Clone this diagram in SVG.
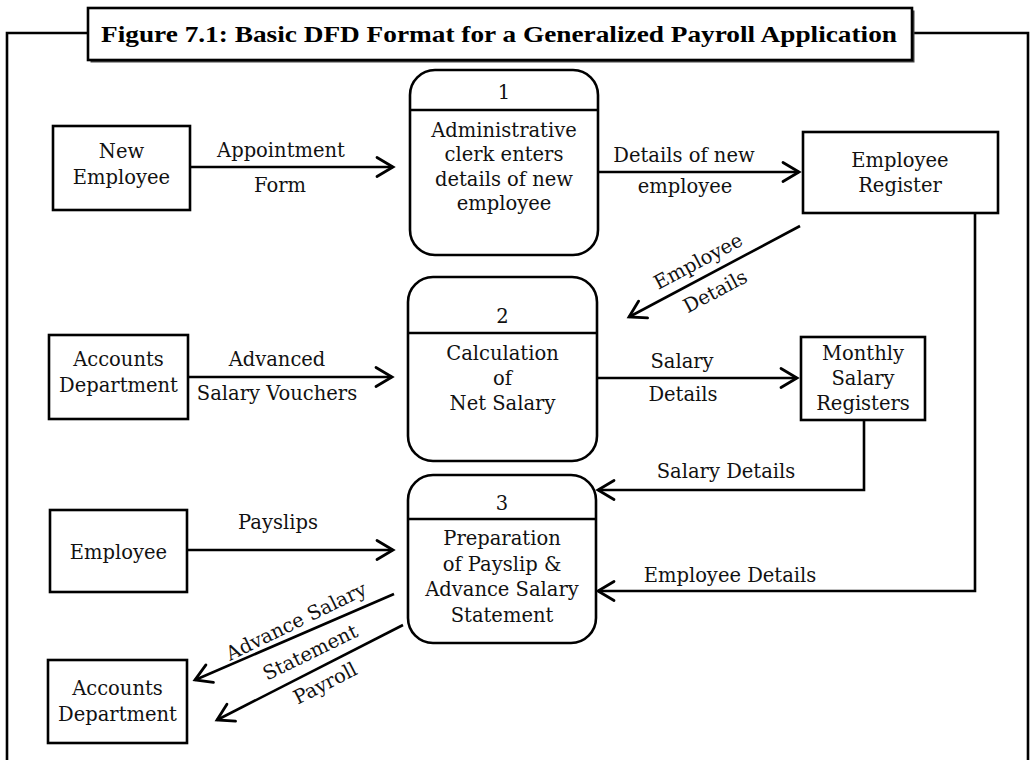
<svg xmlns="http://www.w3.org/2000/svg" width="1031" height="760" viewBox="0 0 1031 760">
<defs>
<marker id="arr" markerUnits="userSpaceOnUse" markerWidth="30" markerHeight="30" viewBox="-20 -15 25 30" refX="0" refY="0" orient="auto">
<path d="M-16,-9.5 L0,0 L-16,9.5" fill="none" stroke="#000" stroke-width="2.8" stroke-linecap="round" stroke-linejoin="miter"/>
</marker>
</defs>
<style>
.t{font-family:"DejaVu Serif","Liberation Serif",serif;font-size:19.5px;fill:#111;text-anchor:middle}
.title{font-family:"Liberation Serif","DejaVu Serif",serif;font-size:23px;font-weight:bold;fill:#000}
.box{fill:#fff;stroke:#000;stroke-width:2.6}
.proc{fill:#fff;stroke:#000;stroke-width:2.6}
.line{fill:none;stroke:#000;stroke-width:2.6}
.conn{fill:none;stroke:#000;stroke-width:2.6;marker-end:url(#arr)}
</style>
<rect width="1031" height="760" fill="#fff"/>
<g id="frame">
<path class="line" d="M7,760 L7,33 L88,33 M912,33 L1028,33 L1028,760"/>
<rect x="90.5" y="10.5" width="824" height="52" fill="#444"/>
<rect class="box" x="88" y="8" width="824" height="52"/>
<text class="title" x="101" y="42" textLength="796" lengthAdjust="spacingAndGlyphs">Figure 7.1: Basic DFD Format for a Generalized Payroll Application</text>
</g>
<g id="connectors">
<path class="conn" d="M190,167 L393,167"/>
<path class="conn" d="M598,172 L799,172"/>
<path class="conn" d="M800,226 L629,317"/>
<path class="conn" d="M188,377 L392,377"/>
<path class="conn" d="M597,378 L797,378"/>
<path class="conn" d="M864,420 L864,490 L598,490"/>
<path class="conn" d="M975,213 L975,591 L598,591"/>
<path class="conn" d="M187,550 L393,550"/>
<path class="conn" d="M394,594 L195,680"/>
<path class="conn" d="M403,625 L217,720"/>
<text class="t" x="281" y="157">Appointment</text>
<text class="t" x="280" y="192">Form</text>
<text class="t" x="684" y="162">Details of new</text>
<text class="t" x="685" y="193">employee</text>
<text class="t" x="698" y="268" transform="rotate(-28 698 261)">Employee</text>
<text class="t" x="715" y="298" transform="rotate(-28 715 291)">Details</text>
<text class="t" x="277" y="366">Advanced</text>
<text class="t" x="277" y="400">Salary Vouchers</text>
<text class="t" x="682" y="368">Salary</text>
<text class="t" x="683" y="401">Details</text>
<text class="t" x="726" y="478">Salary Details</text>
<text class="t" x="730" y="582">Employee Details</text>
<text class="t" x="278" y="529">Payslips</text>
<text class="t" x="296" y="628" transform="rotate(-26 296 621)">Advance Salary</text>
<text class="t" x="310" y="659" transform="rotate(-26 310 652)">Statement</text>
<text class="t" x="325" y="690" transform="rotate(-27 325 683)">Payroll</text>
</g>
<g id="new-employee">
<rect class="box" x="53" y="126" width="137" height="84"/>
<text class="t" x="121.5" y="158">New</text>
<text class="t" x="121.5" y="184">Employee</text>
</g>
<g id="accounts-top">
<rect class="box" x="49" y="335" width="139" height="84"/>
<text class="t" x="118.5" y="366">Accounts</text>
<text class="t" x="118.5" y="392">Department</text>
</g>
<g id="employee">
<rect class="box" x="50" y="510" width="137" height="82"/>
<text class="t" x="118.5" y="559">Employee</text>
</g>
<g id="accounts-bottom">
<rect class="box" x="48" y="660" width="139" height="83"/>
<text class="t" x="117.5" y="695">Accounts</text>
<text class="t" x="117.5" y="721">Department</text>
</g>
<g id="employee-register">
<rect class="box" x="803" y="132" width="195" height="81"/>
<text class="t" x="900" y="167">Employee</text>
<text class="t" x="900" y="192">Register</text>
</g>
<g id="monthly-salary-registers">
<rect class="box" x="801" y="337" width="124" height="83"/>
<text class="t" x="863" y="360">Monthly</text>
<text class="t" x="863" y="385">Salary</text>
<text class="t" x="863" y="410">Registers</text>
</g>
<g id="process-1">
<rect class="proc" x="410" y="70" width="188" height="185" rx="25" ry="25"/>
<line class="line" x1="410" y1="110" x2="598" y2="110"/>
<text class="t" x="504" y="99">1</text>
<text class="t" x="504" y="137">Administrative</text>
<text class="t" x="504" y="161">clerk enters</text>
<text class="t" x="504" y="186">details of new</text>
<text class="t" x="504" y="210">employee</text>
</g>
<g id="process-2">
<rect class="proc" x="408" y="277" width="189" height="184" rx="25" ry="25"/>
<line class="line" x1="408" y1="333" x2="597" y2="333"/>
<text class="t" x="502.5" y="323">2</text>
<text class="t" x="502.5" y="360">Calculation</text>
<text class="t" x="502.5" y="385">of</text>
<text class="t" x="502.5" y="410">Net Salary</text>
</g>
<g id="process-3">
<rect class="proc" x="408" y="475" width="188" height="168" rx="25" ry="25"/>
<line class="line" x1="408" y1="519" x2="596" y2="519"/>
<text class="t" x="502" y="510">3</text>
<text class="t" x="502" y="545">Preparation</text>
<text class="t" x="502" y="571">of Payslip &amp;</text>
<text class="t" x="502" y="596">Advance Salary</text>
<text class="t" x="502" y="622">Statement</text>
</g>
</svg>
